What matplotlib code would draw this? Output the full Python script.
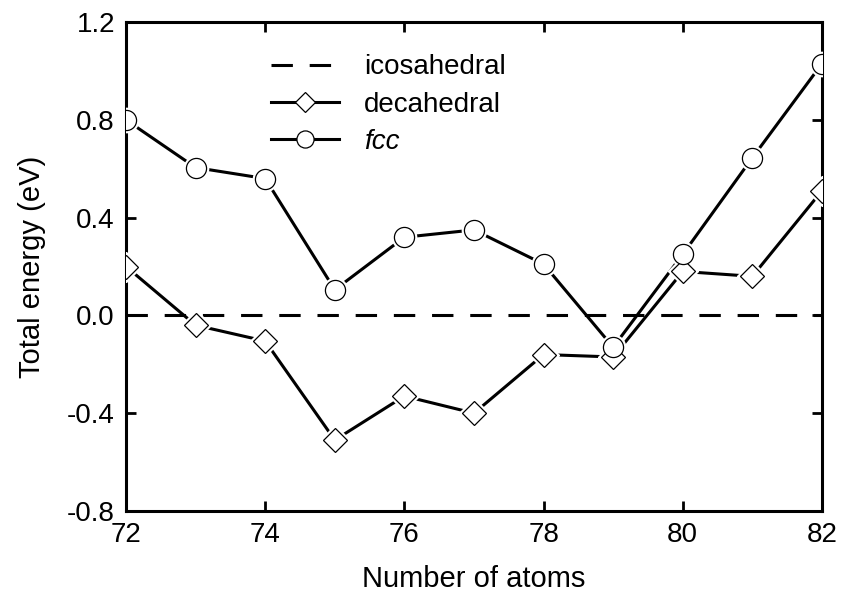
import matplotlib.pyplot as plt

plt.rcParams['font.family'] = ['Liberation Sans', 'DejaVu Sans']

# cluster sizes and relative energies (eV), icosahedral is the reference
atoms = [72, 73, 74, 75, 76, 77, 78, 79, 80, 81, 82]
icosahedral = [0, 0, 0, 0, 0, 0, 0, 0, 0, 0, 0]
decahedral = [0.20, -0.04, -0.105, -0.51, -0.33, -0.40, -0.16, -0.17, 0.18, 0.16, 0.51]
fcc = [0.80, 0.605, 0.56, 0.105, 0.32, 0.35, 0.21, -0.13, 0.25, 0.645, 1.03]

xticks = [72, 74, 76, 78, 80, 82]
yticks = [-0.8, -0.4, 0.0, 0.4, 0.8, 1.2]

fig = plt.figure(figsize=(8.43, 5.99), dpi=100)
ax = fig.add_axes([0.1495, 0.147, 0.8255, 0.816])

lw = 2.2
ax.plot(atoms, icosahedral, color='black', lw=lw, dashes=(7, 5.5), label='icosahedral', zorder=2)

# line + white halo so the line stops short of the marker
for series, mk, ms, lab in [(decahedral, 'D', 12.5, 'decahedral'), (fcc, 'o', 14.5, r'$\mathit{fcc}$')]:
    ax.plot(atoms, series, color='black', lw=lw, zorder=3)
    ax.plot(atoms, series, ls='none', marker=mk, ms=ms + 3, mfc='white', mec='white', zorder=4)
    ax.plot(atoms, series, ls='none', marker=mk, ms=ms, mfc='white', mec='black', mew=0.9, zorder=5)
    ax.plot([], [], color='black', lw=lw, marker=mk, ms=ms * 0.85, mfc='white', mec='black', mew=0.9, label=lab)

ax.set_xlim(72, 82)
ax.set_ylim(-0.8, 1.2)
ax.set_xticks(xticks)
ax.set_yticks(yticks)
ax.set_yticklabels(['%.1f' % v for v in yticks])
ax.tick_params(direction='in', top=True, right=True, length=7, width=2, labelsize=20, pad=8)
for sp in ax.spines.values():
    sp.set_linewidth(2.2)

ax.set_xlabel('Number of atoms', fontsize=21, labelpad=12)
ax.set_ylabel('Total energy (eV)', fontsize=21, labelpad=15)

leg = ax.legend(loc='upper left', bbox_to_anchor=(0.172, 0.985), frameon=False, fontsize=20,
                handlelength=2.45, handletextpad=0.9, labelspacing=0.4)
for t in leg.get_texts():
    if 'fcc' in t.get_text():
        t.set_text('fcc')
        t.set_fontstyle('italic')

fig.savefig('out.png', dpi=100)
